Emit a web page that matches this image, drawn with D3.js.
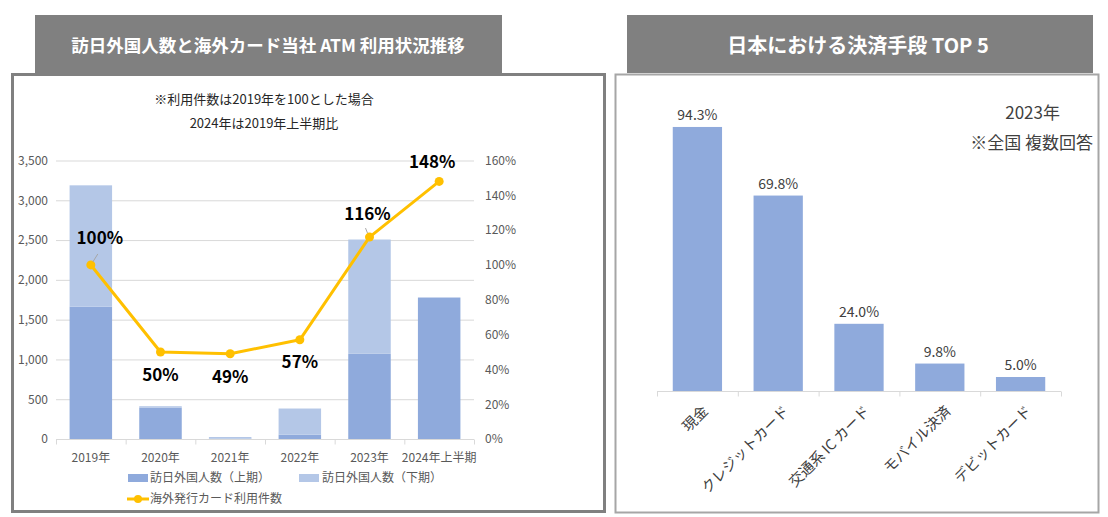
<!DOCTYPE html>
<html>
  <head>
    <meta charset="utf-8" />
    <title>訪日外国人数とATM利用状況 / 決済手段</title>
    <script src="https://d3js.org/d3.v7.min.js"></script>
    <style>
      body { margin: 0; background: #fff; }
      svg { display: block; font-family: "Noto Sans CJK JP", "Noto Sans", sans-serif; }
    </style>
  </head>
  <body>
    <div id="chart"></div>
    <script>
      // ---- data ----
      var years = ["2019年", "2020年", "2021年", "2022年", "2023年", "2024年上半期"];
      var visitorsH1 = [1663, 395, 5, 55, 1071, 1778]; // 万人
      var visitorsH2 = [1525, 17, 20, 328, 1436, 0];
      var atmIndex = [100, 50, 49, 57, 116, 148]; // %
      var leftTicks = [0, 500, 1000, 1500, 2000, 2500, 3000, 3500];
      var rightTicks = [0, 20, 40, 60, 80, 100, 120, 140, 160];

      var methods = ["現金", "クレジットカード", "交通系 IC カード", "モバイル決済", "デビットカード"];
      var shares = [94.3, 69.8, 24.0, 9.8, 5.0];

      var darkBlue = "#8faadc", lightBlue = "#b4c7e7", gold = "#ffc000";
      var grid = "#d9d9d9", tickText = "#595959";

      var svg = d3.select("#chart").append("svg")
        .attr("width", 1108).attr("height", 517);

      // ---- panel frames & title boxes ----
      svg.append("rect").attr("x", 12.5).attr("y", 74.5).attr("width", 592).attr("height", 437)
        .attr("fill", "#fff").attr("stroke", "#808080").attr("stroke-width", 3);
      svg.append("rect").attr("x", 35).attr("y", 15).attr("width", 467).attr("height", 58).attr("fill", "#808080");
      svg.append("text").attr("x", 268).attr("y", 52).attr("text-anchor", "middle")
        .attr("fill", "#fff").attr("font-size", 17.5).attr("font-weight", "bold")
        .text("訪日外国人数と海外カード当社 ATM 利用状況推移");

      svg.append("rect").attr("x", 615.5).attr("y", 74.5).attr("width", 483).attr("height", 438)
        .attr("fill", "#fff").attr("stroke", "#a6a6a6").attr("stroke-width", 2);
      svg.append("rect").attr("x", 627).attr("y", 15).attr("width", 466).attr("height", 58).attr("fill", "#808080");
      svg.append("text").attr("x", 858).attr("y", 53).attr("text-anchor", "middle")
        .attr("fill", "#fff").attr("font-size", 20).attr("font-weight", "bold")
        .text("日本における決済手段 TOP 5");

      // ---- left chart ----
      var x = d3.scaleBand().domain(years).range([56, 474]).paddingInner(0.39).paddingOuter(0.195);
      var y = d3.scaleLinear().domain([0, 3500]).range([439, 160.5]);
      var y2 = d3.scaleLinear().domain([0, 160]).range([439, 160.5]);

      svg.append("text").attr("x", 264).attr("y", 104).attr("text-anchor", "middle")
        .attr("font-size", 13).attr("fill", "#262626").text("※利用件数は2019年を100とした場合");
      svg.append("text").attr("x", 264).attr("y", 128).attr("text-anchor", "middle")
        .attr("font-size", 13).attr("fill", "#262626").text("2024年は2019年上半期比");

      svg.append("g").selectAll("line").data(leftTicks.slice(1)).enter().append("line")
        .attr("x1", 56).attr("x2", 474)
        .attr("y1", function (d) { return y(d) + 0.5; })
        .attr("y2", function (d) { return y(d) + 0.5; })
        .attr("stroke", grid).attr("stroke-width", 1);

      var yAxisL = svg.append("g").attr("transform", "translate(48,0)")
        .call(d3.axisLeft(y).tickValues(leftTicks).tickSize(0).tickPadding(0).tickFormat(d3.format(",")));
      yAxisL.select(".domain").remove();
      yAxisL.selectAll("text").attr("fill", tickText).attr("font-size", 12)
        .style("font-family", "'Noto Sans CJK JP', sans-serif");

      var yAxisR = svg.append("g").attr("transform", "translate(485,0)")
        .call(d3.axisRight(y2).tickValues(rightTicks).tickSize(0).tickPadding(0)
          .tickFormat(function (d) { return d + "%"; }));
      yAxisR.select(".domain").remove();
      yAxisR.selectAll("text").attr("fill", tickText).attr("font-size", 12)
        .style("font-family", "'Noto Sans CJK JP', sans-serif");

      // stacked bars
      var bars = svg.append("g");
      bars.selectAll(".h1").data(years).enter().append("rect")
        .attr("x", function (d) { return x(d); })
        .attr("width", x.bandwidth())
        .attr("y", function (d, i) { return y(visitorsH1[i]); })
        .attr("height", function (d, i) { return y(0) - y(visitorsH1[i]); })
        .attr("fill", darkBlue);
      bars.selectAll(".h2").data(years).enter().append("rect")
        .attr("x", function (d) { return x(d); })
        .attr("width", x.bandwidth())
        .attr("y", function (d, i) { return y(visitorsH1[i] + visitorsH2[i]); })
        .attr("height", function (d, i) { return y(visitorsH1[i]) - y(visitorsH1[i] + visitorsH2[i]); })
        .attr("fill", lightBlue);

      // x axis
      var xAxisL = svg.append("g").attr("transform", "translate(0,439.5)");
      xAxisL.append("line").attr("x1", 56).attr("x2", 474).attr("stroke", grid);
      xAxisL.selectAll(".tk").data(d3.range(years.length + 1)).enter().append("line")
        .attr("x1", function (i) { return 56 + i * x.step() + 0.5; })
        .attr("x2", function (i) { return 56 + i * x.step() + 0.5; })
        .attr("y1", 0).attr("y2", 5).attr("stroke", grid);
      xAxisL.selectAll("text").data(years).enter().append("text")
        .attr("x", function (d) { return x(d) + x.bandwidth() / 2; })
        .attr("y", 22).attr("text-anchor", "middle")
        .attr("font-size", 12).attr("fill", tickText).text(function (d) { return d; });

      // line
      var cx = function (d, i) { return x(years[i]) + x.bandwidth() / 2; };
      var line = d3.line().x(cx).y(function (d) { return y2(d); });
      svg.append("path").datum(atmIndex).attr("d", line)
        .attr("fill", "none").attr("stroke", gold).attr("stroke-width", 3).attr("stroke-linejoin", "round");
      svg.append("g").selectAll("circle").data(atmIndex).enter().append("circle")
        .attr("cx", cx).attr("cy", function (d) { return y2(d); })
        .attr("r", 4.5).attr("fill", gold);

      // value labels (layout offsets from each point)
      var labelOffset = [[9, -21], [0, 29], [0, 29], [0, 28], [-2, -17], [-7, -13]];
      svg.append("g").selectAll("text").data(atmIndex).enter().append("text")
        .attr("x", function (d, i) { return cx(d, i) + labelOffset[i][0]; })
        .attr("y", function (d, i) { return y2(d) + labelOffset[i][1]; })
        .attr("text-anchor", "middle").attr("font-size", 17).attr("font-weight", "bold")
        .attr("fill", "#000").text(function (d) { return d + "%"; });
      // leader lines for 100% and 116%
      [0, 4].forEach(function (i) {
        var px = cx(atmIndex[i], i), py = y2(atmIndex[i]);
        var l = i === 0 ? [px + 2, py - 3, px + 7, py - 11] : [px - 2, py - 4, px - 4, py - 9];
        svg.append("line").attr("x1", l[0]).attr("y1", l[1]).attr("x2", l[2]).attr("y2", l[3])
          .attr("stroke", "#a6a6a6").attr("stroke-width", 1);
      });

      // legend
      var lg = svg.append("g").attr("font-size", 12).attr("fill", tickText);
      lg.append("rect").attr("x", 128).attr("y", 474).attr("width", 20).attr("height", 8).attr("fill", darkBlue);
      lg.append("text").attr("x", 150).attr("y", 482).text("訪日外国人数（上期）");
      lg.append("rect").attr("x", 299).attr("y", 474).attr("width", 20).attr("height", 8).attr("fill", lightBlue);
      lg.append("text").attr("x", 322).attr("y", 482).text("訪日外国人数（下期）");
      lg.append("line").attr("x1", 127).attr("x2", 149).attr("y1", 499).attr("y2", 499)
        .attr("stroke", gold).attr("stroke-width", 3);
      lg.append("circle").attr("cx", 138).attr("cy", 499).attr("r", 4).attr("fill", gold);
      lg.append("text").attr("x", 150).attr("y", 503).text("海外発行カード利用件数");

      // ---- right chart ----
      var xr = d3.scaleBand().domain(methods).range([657, 1061]).paddingInner(0.39).paddingOuter(0.195);
      var yr = d3.scaleLinear().domain([0, 100]).range([391, 111]);

      svg.append("g").selectAll("rect").data(methods).enter().append("rect")
        .attr("x", function (d) { return xr(d); })
        .attr("width", xr.bandwidth())
        .attr("y", function (d, i) { return yr(shares[i]); })
        .attr("height", function (d, i) { return yr(0) - yr(shares[i]); })
        .attr("fill", darkBlue);

      svg.append("g").selectAll("text").data(methods).enter().append("text")
        .attr("x", function (d) { return xr(d) + xr.bandwidth() / 2; })
        .attr("y", function (d, i) { return yr(shares[i]) - 7; })
        .attr("text-anchor", "middle").attr("font-size", 14).attr("fill", "#404040")
        .text(function (d, i) { return d3.format(".1f")(shares[i]) + "%"; });

      var xAxisR = svg.append("g").attr("transform", "translate(0,391.5)");
      xAxisR.append("line").attr("x1", 657).attr("x2", 1061).attr("stroke", grid);
      xAxisR.selectAll(".tk").data(d3.range(methods.length + 1)).enter().append("line")
        .attr("x1", function (i) { return 657 + i * xr.step() + 0.5; })
        .attr("x2", function (i) { return 657 + i * xr.step() + 0.5; })
        .attr("y1", 0).attr("y2", 5).attr("stroke", grid);
      xAxisR.selectAll("text").data(methods).enter().append("text")
        .attr("transform", function (d) {
          return "translate(" + (xr(d) + xr.bandwidth() / 2 + 8) + ",17) rotate(-45)";
        })
        .attr("text-anchor", "end").attr("dy", "0.35em")
        .attr("font-size", 14.5).attr("fill", "#404040").text(function (d) { return d; });

      svg.append("text").attr("x", 1060).attr("y", 119).attr("text-anchor", "end")
        .attr("font-size", 17).attr("fill", "#404040").text("2023年");
      svg.append("text").attr("x", 1093).attr("y", 149).attr("text-anchor", "end")
        .attr("font-size", 17).attr("fill", "#404040").text("※全国 複数回答");
    </script>
  </body>
</html>
